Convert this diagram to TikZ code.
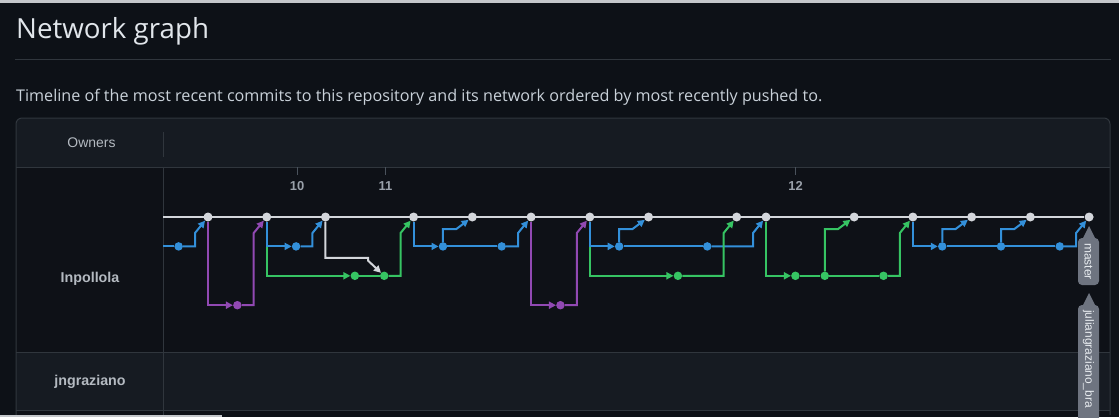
\documentclass[tikz,border=0pt]{standalone}
\usepackage{fontspec}
\setmainfont{Liberation Sans}
\newfontfamily\osans{Open Sans}
\usetikzlibrary{arrows.meta,calc}
\definecolor{pagebg}{HTML}{0D1117}
\definecolor{headbg}{HTML}{161B22}
\definecolor{rowdark}{HTML}{0E1117}
\definecolor{bordercol}{HTML}{30363D}
\definecolor{mastercol}{HTML}{D3D6DB}
\definecolor{bluecol}{HTML}{3390DA}
\definecolor{greencol}{HTML}{36C463}
\definecolor{purplecol}{HTML}{9149B3}
\definecolor{titlecol}{HTML}{E1E6EB}
\definecolor{subcol}{HTML}{C9D1D9}
\definecolor{ownercol}{HTML}{B4BAC1}
\definecolor{datecol}{HTML}{9AA1AA}
\definecolor{tickcol}{HTML}{4A525C}
\definecolor{tagcol}{HTML}{6E7480}
\definecolor{tagtextcol}{HTML}{E8ECF0}
\definecolor{edgecol}{HTML}{C4C7CB}
\pgfdeclarelayer{back}
\pgfdeclarelayer{lines}
\pgfsetlayers{back,lines,main}
\newcommand\ghmergeB[3]{\draw[#1,tip] (#2) -| ($(#3)+(-13,16)$) -- (#3);}
\newcommand\ghmergeA[3]{\draw[#1,tip] (#2) |- ($(#3)+(-16,12)$) -- (#3);}
\newcommand\ghfork[3]{\draw[#1,tip] (#2) |- (#3);}
\begin{document}
\begin{tikzpicture}[x=1bp,y=-1bp,
  mnode/.style={circle,fill=mastercol,minimum size=9bp,inner sep=0pt},
  bdot/.style={circle,fill=bluecol,minimum size=8.5bp,inner sep=0pt},
  gdot/.style={circle,fill=greencol,minimum size=8.5bp,inner sep=0pt},
  pdot/.style={circle,fill=purplecol,minimum size=8.5bp,inner sep=0pt},
  edgeline/.style={line width=2bp},
  tip/.style={-{Triangle[length=7bp,width=7bp]}},
  bl/.style={edgeline,draw=bluecol},
  gl/.style={edgeline,draw=greencol},
  pl/.style={edgeline,draw=purplecol},
  wl/.style={edgeline,draw=mastercol},
  ml/.style={line width=2.4bp,draw=mastercol},
  datelbl/.style={font=\bfseries\fontsize{13}{15}\selectfont,text=datecol,inner sep=0pt,anchor=base},
  tagtext/.style={font=\fontsize{12}{14}\selectfont,text=tagtextcol,inner sep=0pt},
  ownerlbl/.style={font=\bfseries\fontsize{14.3}{16}\selectfont,text=ownercol,inner sep=0pt,anchor=base}
]
\useasboundingbox (0,0) rectangle (1119,417);
\begin{pgfonlayer}{back}
\fill[pagebg] (0,0) rectangle (1119,417);
\fill[edgecol] (0,0) rectangle (1119,2.5);
\fill[edgecol] (0,415) rectangle (222,417);
\begin{scope}
\clip (0,0) rectangle (1119,414.5);
\begin{scope}
\clip[rounded corners=6bp] (16,118) rectangle (1110,460);
\fill[rowdark] (16,118) rectangle (1110,460);
\fill[headbg] (16,118) rectangle (1110,167);
\fill[headbg] (16,352) rectangle (1110,410);
\end{scope}
\draw[bordercol,line width=1bp] (16,167) -- (1110,167);
\draw[bordercol,line width=1bp] (16,352) -- (1110,352);
\draw[bordercol,line width=1bp] (16,410) -- (1110,410);
\draw[bordercol,line width=1bp] (163,167) -- (163,417);
\draw[bordercol,line width=1bp] (163,132) -- (163,157);
\draw[bordercol,line width=1bp,rounded corners=6bp] (16,118) rectangle (1110,460);
\end{scope}
\draw[bordercol,line width=1bp] (15,59.5) -- (1111,59.5);
\foreach \tx in {297,385,795} \draw[tickcol,line width=1bp] (\tx,167) -- (\tx,175);
\end{pgfonlayer}

% texts
\node[font=\osans\fontsize{27.8}{32}\selectfont,text=titlecol,inner sep=0pt,anchor=base west] (title) at (16,38.5) {Network graph};
\node[font=\osans\fontsize{16.2}{19}\selectfont,text=subcol,inner sep=0pt,anchor=base west] (subtitle) at (16,101) {Timeline of the most recent commits to this repository and its network ordered by most recently pushed to.};
\node[font=\fontsize{14}{16}\selectfont,text=ownercol,inner sep=0pt,anchor=base] (owners) at (91.5,147) {Owners};
\node[ownerlbl] (own1) at (90,282) {Inpollola};
\node[ownerlbl] (own2) at (90,385) {jngraziano};
\node[datelbl] (d10) at (297,190) {10};
\node[datelbl] (d11) at (385.5,190) {11};
\node[datelbl] (d12) at (795.5,190) {12};

% master commits
\foreach \k in {0,2,4,7,9,11,13,15,18,19,22,24,26,28,30}
  \node[mnode] (m\k) at ({208+29.37*\k},217) {};
% blue commits
\node[bdot] (bm1) at ({208-29.37},246.4) {};
\foreach \k in {3,8,10,14,17,25,27,29}
  \node[bdot] (b\k) at ({208+29.37*\k},246.4) {};
% green commits
\foreach \k in {5,6,16,20,21,23}
  \node[gdot] (g\k) at ({208+29.37*\k},275.8) {};
% purple commits
\foreach \k in {1,12}
  \node[pdot] (p\k) at ({208+29.37*\k},305.2) {};
\coordinate (mstart) at (163,217);
\coordinate (bstart) at (163,246.4);

\begin{pgfonlayer}{lines}
\draw[ml] (mstart) -- (m30);
\draw[bl] (bstart) -- (bm1);
\ghmergeB{bl}{bm1}{m0}
\ghfork{pl}{m0}{p1}
\ghmergeB{pl}{p1}{m2}
\ghfork{gl}{m2}{g5}
\ghfork{bl}{m2}{b3}
\ghmergeB{bl}{b3}{m4}
\draw[gl] (g5) -- (g6);
\draw[wl,tip] (m4) |- ($(g6)+(-16,-18)$) -- ($(g6)+(-16,-15)$) -- (g6);
\ghmergeB{gl}{g6}{m7}
\ghfork{bl}{m7}{b8}
\ghmergeA{bl}{b8}{m9}
\draw[bl] (b8) -- (b10);
\ghmergeB{bl}{b10}{m11}
\ghfork{pl}{m11}{p12}
\ghmergeB{pl}{p12}{m13}
\ghfork{gl}{m13}{g16}
\ghfork{bl}{m13}{b14}
\ghmergeA{bl}{b14}{m15}
\draw[bl] (b14) -- (b17);
\ghmergeB{bl}{b17}{m19}
\ghmergeB{gl}{g16}{m18}
\ghfork{gl}{m19}{g20}
\draw[gl] (g20) -- (g21) -- (g23);
\ghmergeA{gl}{g21}{m22}
\ghmergeB{gl}{g23}{m24}
\ghfork{bl}{m24}{b25}
\ghmergeA{bl}{b25}{m26}
\draw[bl] (b25) -- (b27);
\ghmergeA{bl}{b27}{m28}
\draw[bl] (b27) -- (b29);
\ghmergeB{bl}{b29}{m30}
\end{pgfonlayer}

% branch tags
\fill[tagcol,rounded corners=4bp] (1078,238) rectangle (1099,285);
\fill[tagcol] (1089,226) -- (1095.5,239) -- (1082.5,239) -- cycle;
\node[tagtext,rotate=-90] (tagmaster) at (1088.5,261.5) {master};
\begin{scope}
\clip (0,0) rectangle (1119,417);
\fill[tagcol,rounded corners=4bp] (1078,305) rectangle (1099,430);
\fill[tagcol] (1089,293) -- (1095.5,306) -- (1082.5,306) -- cycle;
\node[tagtext,rotate=-90,anchor=west] (tagjul) at (1088.5,310) {juliangraziano\_bra};
\end{scope}
\end{tikzpicture}
\end{document}
